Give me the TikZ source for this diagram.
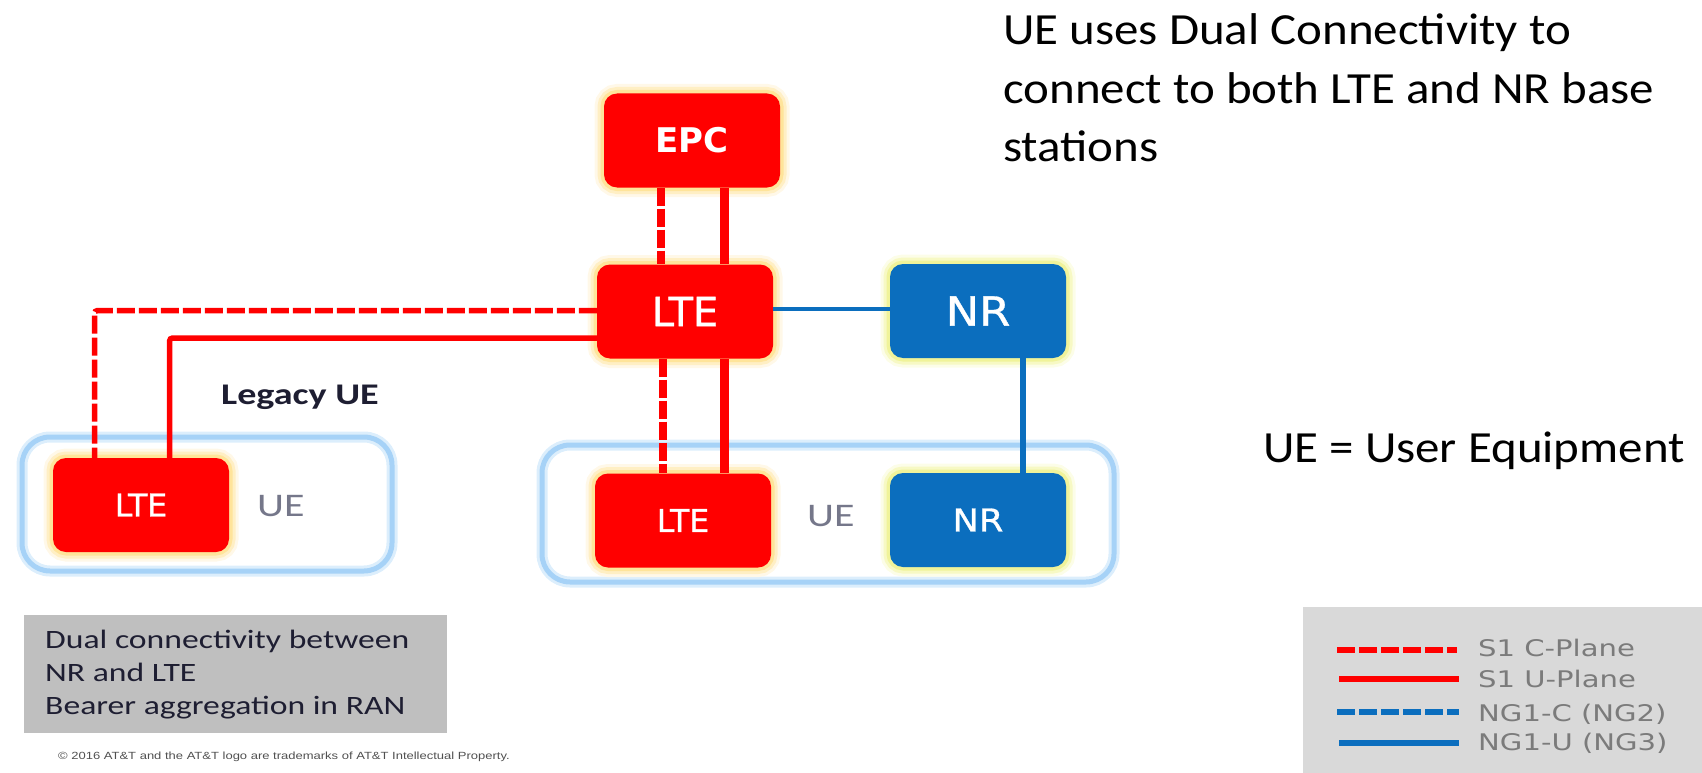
\documentclass[tikz,border=0pt]{standalone}
\usepackage{fontspec}
\setmainfont{Carlito}
\newfontfamily\calR[FakeStretch=1.1]{Carlito}
\newfontfamily\calS[FakeStretch=1.27]{Carlito}
\newfontfamily\dvS[FakeStretch=1.27]{DejaVu Sans}
\newfontfamily\dvf[FakeBold=0.9]{DejaVu Sans}
\newfontfamily\dvb{DejaVu Sans}
\newfontfamily\dvN[FakeStretch=1.12,FakeBold=0.9]{DejaVu Sans}
\newfontfamily\arialf[FakeStretch=1.25]{Liberation Sans}
\definecolor{lred}{HTML}{FF0000}
\definecolor{nblue}{HTML}{0B6EBE}
\definecolor{uebord}{HTML}{A6D2F7}
\definecolor{uebordglow}{HTML}{DCEEFC}
\definecolor{redglow}{HTML}{FFE49A}
\definecolor{redglowa}{HTML}{FFEFC4}
\definecolor{redglowb}{HTML}{FFF8E8}
\definecolor{blueglow}{HTML}{F0F39A}
\definecolor{blueglowa}{HTML}{F7F9C4}
\definecolor{blueglowb}{HTML}{FCFDE8}
\definecolor{uegray}{HTML}{75778A}
\definecolor{legendgray}{HTML}{D9D9D9}
\definecolor{notegray}{HTML}{BFBFBF}
\definecolor{legtext}{HTML}{7B7B7B}
\definecolor{notetext}{HTML}{1E1E32}
\definecolor{copytext}{HTML}{505050}
\tikzset{
  redbox/.style={fill=lred, rounded corners=13pt, minimum width=176pt, minimum height=94pt,
    inner sep=0pt, text=white,
    preaction={draw=redglowb, line width=19pt},
    preaction={draw=redglowa, line width=13pt},
    preaction={draw=redglow, line width=7pt}},
  bluebox/.style={fill=nblue, rounded corners=13pt, minimum width=176pt, minimum height=94pt,
    inner sep=0pt, text=white,
    preaction={draw=blueglowb, line width=19pt},
    preaction={draw=blueglowa, line width=13pt},
    preaction={draw=blueglow, line width=7pt}},
  uebox/.style={draw=uebord, line width=5pt, rounded corners=28pt, inner sep=0pt,
    preaction={draw=uebordglow, line width=11pt}},
  biglbl/.style={font=\dvf\fontsize{40}{44}\selectfont},
  bignr/.style={font=\dvN\fontsize{40}{44}\selectfont},
  smalllbl/.style={font=\dvf\fontsize{31.5}{36}\selectfont},
  smallnr/.style={font=\dvN\fontsize{31.5}{36}\selectfont},
  redthick/.style={draw=lred, line width=9pt},
  reddashthick/.style={draw=lred, line width=8pt, dash pattern=on 18pt off 3pt},
  redthin/.style={draw=lred, line width=5.5pt, rounded corners=3pt},
  reddashthin/.style={draw=lred, line width=5.5pt, rounded corners=3pt, dash pattern=on 18pt off 4pt},
  bluethin/.style={draw=nblue, line width=4pt},
  bluethick/.style={draw=nblue, line width=6.5pt},
  uelbl/.style={anchor=base west, inner sep=0pt, text=uegray, font=\calS\fontsize{33}{36}\selectfont},
  bigtxt/.style={anchor=base west, inner sep=0pt, text=black, font=\calR\fontsize{44.5}{50}\selectfont},
  notetxt/.style={anchor=base west, inner sep=0pt, text=notetext, font=\calS\fontsize{26.5}{30}\selectfont},
  legtxt/.style={anchor=base west, inner sep=0pt, text=legtext, font=\dvS\fontsize{22.9}{26}\selectfont},
  legline/.style={line width=6pt},
  legdash/.style={line width=6pt, dash pattern=on 18pt off 4pt},
}
\begin{document}
\begin{tikzpicture}[x=1pt, y=-1pt]
\useasboundingbox (0,0) rectangle (1702,773);
% UE groups
\node[uebox, minimum width=370pt, minimum height=134pt] (ueL) at (207,504) {};
\node[uebox, minimum width=572pt, minimum height=137pt] (ueR) at (828,513.5) {};
% boxes
\node[redbox, font=\dvb\bfseries\fontsize{34}{40}\selectfont] (epc) at (692,140.5) {EPC};
\node[redbox, biglbl] (lteC) at (685,311.5) {LTE};
\node[bluebox, bignr] (nrT) at (978,311) {NR};
\node[redbox, smalllbl] (lteL) at (141,505) {LTE};
\node[redbox, smalllbl] (lteB) at (683,520.5) {LTE};
\node[bluebox, smallnr] (nrB) at (978,520) {NR};
% links
\draw[reddashthick] ([xshift=-31pt]epc.south) -- ([xshift=-31pt]epc.south |- lteC.north);
\draw[redthick] ([xshift=32.5pt]epc.south) -- ([xshift=32.5pt]epc.south |- lteC.north);
\draw[reddashthick] ([xshift=-22pt]lteC.south) -- ([xshift=-22pt]lteC.south |- lteB.north);
\draw[redthick] ([xshift=39.5pt]lteC.south) -- ([xshift=39.5pt]lteC.south |- lteB.north);
\draw[reddashthin] ([yshift=1pt]lteC.west) -| ([xshift=-46.4pt]lteL.north);
\draw[redthin] ([yshift=-26.5pt]lteC.west) -| ([xshift=28.6pt]lteL.north);
\draw[bluethin] ([yshift=2.5pt]lteC.east) -- ([yshift=2.5pt]lteC.east -| nrT.west);
\draw[bluethick] ([xshift=45pt]nrT.south) -- ([xshift=45pt]nrT.south |- nrB.north);
% labels
\node[anchor=base west, inner sep=0pt, text=notetext, font=\calS\bfseries\fontsize{30}{34}\selectfont] (legacy) at (221,404) {Legacy UE};
\node[uelbl] (ueLtxt) at (257,516.7) {UE};
\node[uelbl] (ueRtxt) at (807,526.5) {UE};
% right texts
\node[bigtxt] (t1) at (1003,45) {UE uses Dual Connectivity to};
\node[bigtxt] (t2) at (1003,103.3) {connect to both LTE and NR base};
\node[bigtxt] (t3) at (1003,161.7) {stations};
\node[bigtxt] (t4) at (1263,462) {UE = User Equipment};
% note box
\node[fill=notegray, minimum width=423pt, minimum height=118pt, inner sep=0pt] (note) at (235.5,674) {};
\node[notetxt] (n1) at (45,648.3) {Dual connectivity between};
\node[notetxt] (n2) at (45,681.7) {NR and LTE};
\node[notetxt] (n3) at (45,714) {Bearer aggregation in RAN};
\node[anchor=west, inner sep=0pt, text=copytext, font=\arialf\fontsize{10.4}{12}\selectfont] (copy) at (58,757) {© 2016 AT\&T and the AT\&T logo are trademarks of AT\&T Intellectual Property.};
% legend
\node[fill=legendgray, minimum width=400pt, minimum height=166pt, inner sep=0pt] (legend) at (1503,690) {};
\draw[legdash, draw=lred] (1337,650) -- (1457,650);
\draw[legline, draw=lred] (1339,679) -- (1459,679);
\draw[legdash, draw=nblue] (1337,712.3) -- (1459,712.3);
\draw[legline, draw=nblue] (1339,743.3) -- (1459,743.3);
\node[legtxt] (l1) at (1478,656.7) {S1 C-Plane};
\node[legtxt] (l2) at (1478,687.7) {S1 U-Plane};
\node[legtxt] (l3) at (1478,721.7) {NG1-C (NG2)};
\node[legtxt] (l4) at (1478,750) {NG1-U (NG3)};
\end{tikzpicture}
\end{document}
